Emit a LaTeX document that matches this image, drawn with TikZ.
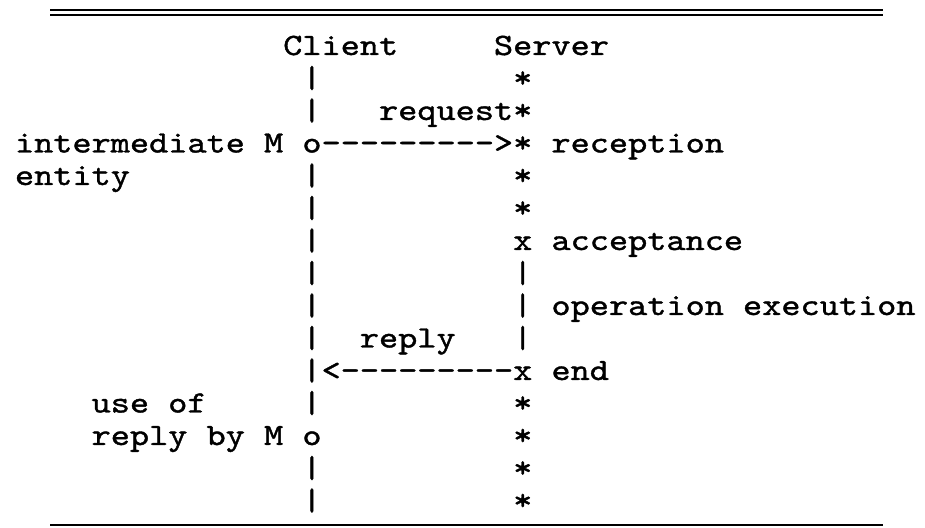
\documentclass[tikz,border=0pt]{standalone}
\usepackage{fontspec}
% Typewriter face widened to a 19.16pt character pitch
\newfontfamily\asciifont{lmmono10-regular.otf}[FakeStretch=1.1773,FakeBold=1.2,Ligatures=TeXOff]
\newcommand\cw{19.16}
\tikzset{
  cellstyle/.style={anchor=base west, inner sep=0pt, outer sep=0pt,
    font=\asciifont\fontsize{31}{32}\selectfont},
  rulestyle/.style={line width=2pt, black}
}
% \cell{name}{column}{row}{text}
\newcommand\cell[4]{\node[cellstyle] (#1) at ({15+#2*\cw},{472-(#3-1)*32.5}) {#4};}
\begin{document}
\begin{tikzpicture}[x=1pt,y=1pt]
\useasboundingbox (0,0) rectangle (925,527);
% rules above and below
\draw[rulestyle] (50,517) -- (883,517);
\draw[rulestyle] (50,511.5) -- (883,511.5);
\draw[rulestyle] (50,2.5) -- (883,2.5);
% headings
\cell{client}{14}{1}{Client}
\cell{server}{25}{1}{Server}
% client time line
\foreach \r in {2,3,5,6,7,8,9,10,11,12,14,15} {\cell{cl\r}{15}{\r}{|}}
\cell{send}{15}{4}{o}
\cell{use}{15}{13}{o}
% server time line
\foreach \r/\c in {2/*,3/*,4/*,5/*,6/*,7/x,8/|,9/|,10/|,11/x,12/*,13/*,14/*,15/*}
  {\cell{sv\r}{26}{\r}{\c}}
% request
\cell{reqlabel}{19}{3}{request}
\cell{reqarrow}{16}{4}{--------->}
\cell{imlabel}{0}{4}{intermediate M}
\cell{entlabel}{0}{5}{entity}
\cell{reception}{28}{4}{reception}
% server processing
\cell{acceptance}{28}{7}{acceptance}
\cell{execution}{28}{9}{operation execution}
% reply
\cell{replabel}{18}{10}{reply}
\cell{reparrow}{16}{11}{<---------}
\cell{endlabel}{28}{11}{end}
\cell{uselabelA}{4}{12}{use of}
\cell{uselabelB}{4}{13}{reply by M}
\end{tikzpicture}
\end{document}
